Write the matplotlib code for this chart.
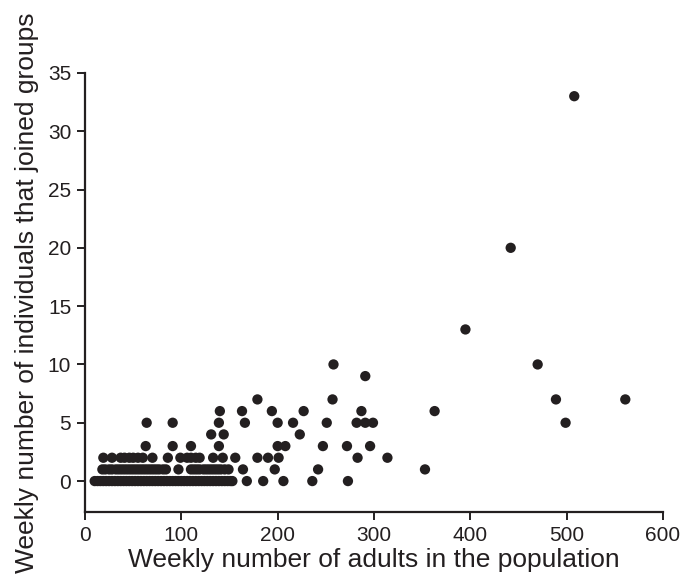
import numpy as np
import matplotlib
matplotlib.use("Agg")
import matplotlib.pyplot as plt

plt.rcParams['font.family'] = ['Liberation Sans', 'DejaVu Sans']

# weekly number of adults (x) grouped by the number that joined groups (y)
adults_0 = [10, 13, 16, 19, 22, 25, 28, 31, 34, 37, 40, 43, 46, 49, 52, 55, 58, 61,
            64, 67, 70, 73, 76, 79, 82, 85, 88, 91, 94, 97, 100, 103, 106, 109, 112,
            115, 118, 121, 124, 127, 130, 133, 136, 139, 142, 145, 148, 151, 153,
            168, 185, 206, 236, 273]
adults_1 = [18, 21, 25, 28, 32, 35, 38, 41, 44, 47, 50, 53, 56, 59, 62, 65, 68, 71,
            74, 77, 81, 84, 97, 110, 113, 116, 119, 123, 126, 129, 132, 135, 138,
            141, 145, 149, 164, 197, 242, 353]
adults_2 = [19, 28, 37, 41, 46, 50, 55, 60, 70, 86, 99, 106, 110, 115, 119, 133,
            143, 156, 179, 190, 201, 283, 314]
adults_3 = [63, 91, 110, 139, 200, 208, 247, 272, 296]
adults_4 = [131, 144, 223]
adults_5 = [64, 91, 139, 166, 200, 216, 251, 282, 291, 299, 499]
adults_6 = [140, 163, 194, 227, 287, 363]
adults_7 = [179, 257, 489, 561]
adults_9 = [291]
adults_10 = [258, 470]
adults_13 = [395]
adults_20 = [442]
adults_33 = [508]

groups = [(0, adults_0), (1, adults_1), (2, adults_2), (3, adults_3), (4, adults_4),
          (5, adults_5), (6, adults_6), (7, adults_7), (9, adults_9), (10, adults_10),
          (13, adults_13), (20, adults_20), (33, adults_33)]

x = np.concatenate([np.array(a, float) for _, a in groups])
y = np.concatenate([np.full(len(a), n, float) for n, a in groups])

ink = '#231f20'

fig = plt.figure(figsize=(6.83, 5.77), dpi=100)
ax = fig.add_axes([0.1245, 0.1127, 0.846, 0.761])

ax.scatter(x, y, s=55, color=ink, edgecolors='none', zorder=3, clip_on=False)

ax.set_xlim(0, 600)
ax.set_ylim(-2.65, 35)
ax.set_xticks(np.arange(0, 601, 100))
ax.set_yticks(np.arange(0, 36, 5))

for side in ['top', 'right']:
    ax.spines[side].set_visible(False)
for side in ['left', 'bottom']:
    ax.spines[side].set_linewidth(1.6)
    ax.spines[side].set_color(ink)

ax.tick_params(direction='out', length=6, width=1.4, color=ink,
               labelsize=15, labelcolor=ink, pad=4)

ax.set_xlabel('Weekly number of adults in the population', fontsize=19, color=ink, labelpad=2)
ax.set_ylabel('Weekly number of individuals that joined groups', fontsize=19, color=ink, labelpad=6)

fig.savefig('out.png', dpi=100)
